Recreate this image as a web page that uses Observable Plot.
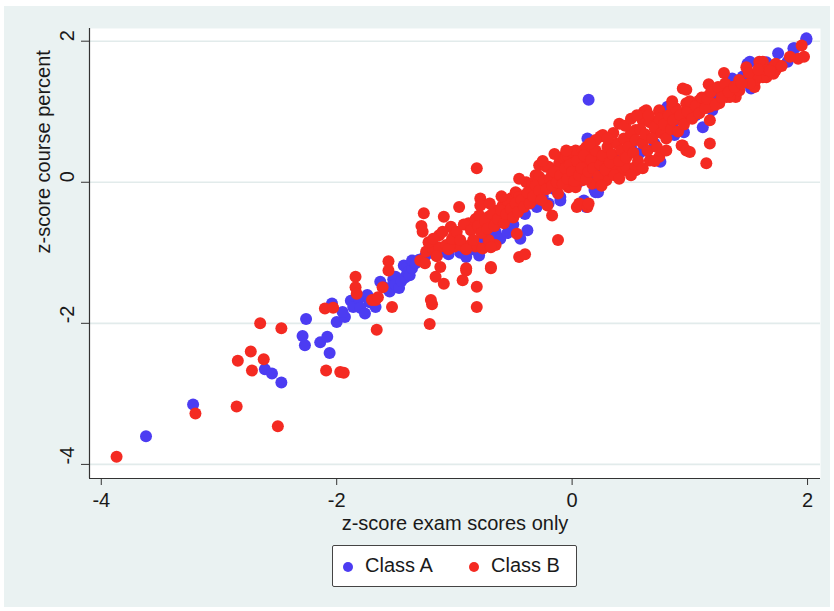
<!DOCTYPE html>
<html><head><meta charset="utf-8">
<script src="https://cdn.jsdelivr.net/npm/d3@7"></script>
<script src="https://cdn.jsdelivr.net/npm/@observablehq/plot@0.6"></script>
<style>
body{margin:0;background:#fff;font-family:"Liberation Sans",Arial,sans-serif;}
#bg{position:absolute;left:4px;top:6px;width:826px;height:601px;background:#eaf2f2;}
#chart{position:absolute;left:4px;top:6px;}
#legend{position:absolute;left:332px;top:545px;width:245px;height:42px;background:#fff;border:1px solid #444;border-radius:2px;box-sizing:border-box;color:#1a1a1a;font-size:20px;}
#legend .dot{position:absolute;width:10px;height:10px;border-radius:50%;top:16px;}
#legend .lab{position:absolute;top:8px;line-height:22px;white-space:nowrap;}
</style></head>
<body>
<div id="bg"></div>
<div id="chart"></div>
<div id="legend">
  <span class="dot" style="left:10px;background:#4c3cf2"></span><span class="lab" style="left:32px">Class A</span>
  <span class="dot" style="left:136px;background:#f42a22"></span><span class="lab" style="left:158px">Class B</span>
</div>
<script>
const xLabel = "z-score exam scores only";
const yLabel = "z-score course percent";
const xTicks = [-4, -2, 0, 2];
const yTicks = [-4, -2, 0, 2];
const seriesNames = ["Class A", "Class B"];
const BLUE = "#4c3cf2", RED = "#f42a22";

const classA = [
[-3.62,-3.60],[-3.22,-3.15],
[-2.61,-2.65],[-2.55,-2.71],[-2.47,-2.84],
[-2.26,-1.94],[-2.29,-2.18],[-2.27,-2.31],[-2.14,-2.27],[-2.08,-2.19],[-2.06,-2.42],
[-2.04,-1.72],[-2.00,-1.98],[-1.93,-1.91],[-1.95,-1.84],[-1.88,-1.68],[-1.86,-1.77],[-1.81,-1.65],[-1.80,-1.78],[-1.74,-1.60],[-1.72,-1.70],[-1.76,-1.86],[-1.67,-1.77],[-1.63,-1.41],
[-1.58,-1.50],[-1.55,-1.55],[-1.52,-1.38],[-1.50,-1.34],[-1.50,-1.45],[-1.47,-1.50],[-1.45,-1.40],[-1.43,-1.18],[-1.42,-1.35],[-1.40,-1.28],[-1.38,-1.32],[-1.36,-1.22],[-1.36,-1.11],[-1.33,-1.15],[-1.30,-1.10],[-1.25,-1.05],[-1.20,-1.00],[-1.17,-0.92],[-1.15,-0.96],[-1.10,-0.98],[-1.05,-1.02],[-0.95,-1.00],[-0.90,-1.06],[-0.85,-0.95],[-0.79,-1.04],[-0.75,-0.80],[-0.72,-0.75],[-0.70,-0.85],[-0.65,-0.70],[-0.63,-0.78],[-0.61,-0.80],[-0.55,-0.72],[-0.50,-0.60],[-0.44,-0.80],[-0.40,-0.45],[-0.38,-0.68],[-0.30,-0.35],[-0.25,-0.20],[-0.20,-0.30],[-0.15,-0.10],[-0.10,-0.21],[-0.10,-0.26],[-0.05,0.10],[0.00,-0.05],[0.05,0.00],[0.10,-0.26],[0.12,-0.35],[0.15,0.05],[0.19,-0.11],[0.20,-0.14],[0.22,-0.14],[0.23,0.15],[0.30,0.10],[0.35,0.20],[0.35,0.30],[0.37,0.15],[0.40,0.25],[0.40,0.35],[0.45,0.35],[0.50,0.50],[0.57,0.41],[0.62,0.45],[0.70,0.55],[0.75,0.29],[0.13,0.62],[0.14,1.17],[0.81,1.07],[0.85,0.80],[0.87,0.67],[0.90,0.90],[0.95,0.71],[1.05,0.95],[1.11,0.78],[1.19,1.02],[1.20,1.20],[1.25,1.15],[1.30,1.25],[1.35,1.45],[1.36,1.47],[1.40,1.30],[1.45,1.50],[1.49,1.68],[1.51,1.71],[1.52,1.33],[1.60,1.55],[1.65,1.70],[1.75,1.83],[1.83,1.71],[1.88,1.90],[1.89,1.90],[1.99,2.02],[1.99,2.04]
];

const classB = [
[-3.87,-3.89],[-3.20,-3.28],[-2.85,-3.18],[-2.50,-3.46],
[-2.65,-2.00],[-2.47,-2.07],[-2.73,-2.40],[-2.84,-2.53],[-2.72,-2.67],[-2.62,-2.51],
[-2.09,-2.67],[-1.97,-2.69],[-1.94,-2.70],
[-2.10,-1.79],[-2.03,-1.78],
[-1.84,-1.34],[-1.84,-1.49],[-1.83,-1.58],[-1.70,-1.67],[-1.67,-1.67],[-1.61,-1.49],[-1.65,-1.63],[-1.53,-1.77],[-1.56,-1.12],[-1.56,-1.25],[-1.66,-2.09],
[-1.21,-2.01],[-1.19,-1.73],[-1.20,-1.67],
[-1.16,-1.34],[-1.09,-1.44],[-0.93,-1.39],[-0.90,-1.25],[-0.81,-1.48],[-0.81,-1.77],[-0.69,-1.22],
[-1.29,-1.11],[-1.25,-1.15],[-1.12,-1.20],[-0.90,-1.22],[-0.69,-1.20],
[-1.26,-0.44],[-1.28,-0.62],[-1.27,-0.70],[-1.09,-0.49],[-1.03,-0.63],[-1.13,-0.75],[-1.00,-0.73],[-0.96,-0.35],[-0.78,-0.23],[-0.78,-0.33],
[-1.24,-0.98],[-1.18,-0.95],[-1.13,-0.92],[-1.07,-0.89],[-1.00,-0.91],[-0.94,-0.90],[-0.88,-0.90],[-0.82,-0.91],[-0.76,-0.94],
[-0.65,-0.89],[-0.71,-0.82],[-0.69,-0.92],[-0.47,-0.73],[-0.45,-1.06],[-0.40,-1.02],[-0.12,-0.82],
[-0.81,0.20],
[-0.88,-0.58],[-0.82,-0.52],[-0.79,-0.47],[-0.71,-0.49],[-0.65,-0.40],[-0.59,-0.33],[-0.57,-0.35],[-0.54,-0.49],[-0.52,-0.23],[-0.48,-0.14],[-0.47,-0.16],[-0.45,-0.21],[-0.54,-0.30],[-0.39,0.00],[-0.34,-0.07],[-0.34,-0.26],[-0.34,-0.02],[-0.31,0.10],[-0.28,0.24],[-0.28,0.08],[-0.22,0.22],[-0.21,-0.33],[-0.20,0.22],[-0.17,0.12],[-0.17,-0.47],[-0.12,-0.16],[-0.11,0.27],[-0.11,0.22],[-0.08,0.36],[-0.07,0.34],[-0.05,0.36],[-0.03,0.36],[-0.03,-0.07],[0.00,0.43],[0.00,0.12],[0.03,0.08],[0.03,0.45],[0.03,-0.07],[0.04,-0.35],[0.06,0.27],[0.06,-0.30],[0.09,0.45],[0.09,0.27],[0.09,0.08],[0.09,0.03],[0.12,0.50],[0.12,0.12],[0.13,-0.35],[0.14,0.27],[0.14,-0.30],[0.17,0.45],[0.17,-0.02],[0.23,0.31],[0.24,0.65],[0.26,0.67],[0.29,0.03],[0.31,0.17],[0.34,0.22],[0.37,0.17],[0.40,0.83],[0.40,0.12],[0.43,0.17],[0.46,0.22],[0.46,0.60],[0.49,0.55],[0.54,0.17],[0.54,0.22],[0.54,0.74],[0.60,0.88],[0.61,1.00],[0.63,1.02],[0.66,0.31],[0.71,0.74],[0.74,0.36],[0.74,1.00],[0.74,1.02],[0.80,0.93],[0.85,1.07],[0.88,0.97],[0.93,0.52],[0.94,1.33],[0.94,0.52],[0.97,0.45],[0.97,1.12],[0.97,1.31],[1.00,0.43],[1.05,1.02],[1.14,0.27],[1.16,1.39],[1.17,0.88],[1.17,0.55],[1.19,1.12],[1.29,1.55],[1.31,1.21],[1.36,1.30],[1.39,1.21],[1.42,1.42],[1.48,1.63],[1.55,1.35],[1.56,1.45],[1.62,1.71],[1.65,1.49],[1.71,1.64],[1.73,1.59],[1.92,1.75],[1.95,1.94],[1.97,1.78],
[1.59,1.71],[1.62,1.49],[1.71,1.54],[1.73,1.68],[1.56,1.49],[1.42,1.45],[1.36,1.35],[1.28,1.26],[1.19,1.30],[1.14,1.21],[1.08,1.16],[1.02,1.07],[0.97,1.02],[0.94,0.93],[1.05,0.97],[1.17,1.07],[1.25,1.12],[1.34,1.21],[1.42,1.30],[1.51,1.40],[1.65,1.59],
[-1.22,-0.85],[-1.18,-0.80],[-1.15,-1.05],[-1.10,-0.70],[-1.05,-0.95],[-1.02,-0.80],[-0.98,-0.70],[-0.95,-0.82],[-0.92,-0.60],[-0.90,-0.95],[-0.86,-0.68],[-0.84,-0.82],[-0.80,-0.62],[-0.77,-0.72],[-0.74,-0.55],[-0.72,-0.66],[-0.68,-0.45],[-0.66,-0.62],[-0.63,-0.52],[-0.60,-0.40],[-0.58,-0.58],[-0.56,-0.45],[-0.52,-0.38],[-0.50,-0.50],[-0.48,-0.30],[-0.46,-0.42],[-0.43,-0.25],[-0.41,-0.35],[-0.38,-0.15],[-0.36,-0.30],[-0.33,-0.20],[-0.31,-0.05],[-0.28,-0.12],[-0.26,-0.25],[-0.24,0.02],[-0.22,-0.10],[-0.19,0.05],[-0.17,-0.05],[-0.15,0.15],[-0.13,0.00],[-0.10,0.10],[-0.08,-0.02],[-0.06,0.20],[-0.04,0.05],[-0.02,0.25],[0.00,0.15],[0.02,0.02],[0.04,0.30],[0.06,0.10],[0.08,0.20],[0.10,0.38],[0.12,0.05],[0.14,0.15],[0.16,0.32],[0.18,0.20],[0.20,0.45],[0.22,0.08],[0.24,0.25],[0.26,0.38],[0.28,0.18],[0.30,0.50],[0.32,0.28],[0.34,0.40],[0.36,0.10],[0.38,0.55],[0.40,0.30],[0.42,0.45],[0.44,0.62],[0.46,0.35],[0.48,0.50],[0.50,0.70],[0.52,0.42],[0.54,0.60],[0.56,0.30],[0.58,0.75],[0.60,0.55],[0.62,0.68],[0.64,0.45],[0.66,0.85],[0.68,0.62],[0.70,0.78],[0.72,0.50],[0.74,0.90],[0.76,0.70],[0.78,0.82],[0.80,0.62],[0.82,0.95],[0.84,0.75],[0.86,0.88],[0.88,1.05],[0.90,0.72],[0.92,0.95],[0.95,0.82],[0.98,1.00],[1.00,1.15],[1.02,0.90],[1.05,1.08],[1.08,0.98],[1.10,1.20],[1.13,1.05],[1.15,1.18],[1.18,1.28],[1.22,1.10],[1.24,1.35],[1.27,1.20],[1.30,1.40],[1.33,1.28],[1.38,1.35],[1.44,1.40],[1.50,1.55],[1.58,1.60],[1.68,1.58],[1.78,1.65],[1.85,1.78],
[0.45,0.80],[0.50,0.90],[0.55,0.95],[0.35,0.70],[0.30,0.62],[0.60,0.20],[0.70,0.30],[0.80,0.45],[0.65,0.95],[0.20,0.60],[0.15,0.55],[-0.05,0.45],[0.85,1.15],[0.25,-0.05],[0.40,0.05],[0.50,0.10],[-0.60,-0.20],[-0.70,-0.30],[-0.45,0.05],[-0.25,0.30],[-0.15,0.40]
];

const X0 = -4.10, X1 = 2.11, Y0 = -4.20, Y1 = 2.18;
const chart = Plot.plot({
  width: 826, height: 540,
  marginLeft: 85, marginRight: 10, marginTop: 22, marginBottom: 68,
  style: {background: "transparent", fontFamily: "Liberation Sans, Arial, sans-serif", fontSize: "20px", color: "#1a1a1a", overflow: "visible"},
  x: {domain: [X0, X1]},
  y: {domain: [Y0, Y1]},
  marks: [
    Plot.frame({fill: "white", stroke: "none"}),
    Plot.gridY(yTicks, {stroke: "#e2ebeb", strokeOpacity: 1, strokeWidth: 1.6}),
    Plot.dot(classA, {x: d => d[0], y: d => d[1], r: 6, fill: BLUE}),
    Plot.dot(classB, {x: d => d[0], y: d => d[1], r: 6, fill: RED}),
    Plot.ruleX([X0], {stroke: "#333", strokeWidth: 1.2}),
    Plot.ruleY([Y0], {stroke: "#333", strokeWidth: 1.2}),
    Plot.axisX(xTicks, {tickSize: 7, tickPadding: 7, label: null, fontSize: 20, tickFormat: d => String(d), stroke: "#333"}),
    Plot.axisY(yTicks, {tickSize: 8, tickFormat: () => "", label: null, stroke: "#333"}),
    Plot.text(yTicks, {y: d => d, frameAnchor: "left", dx: -22, rotate: -90, text: d => String(d), fontSize: 20, fill: "#1a1a1a"}),
    Plot.text([xLabel], {frameAnchor: "bottom", dy: 51, fontSize: 20, fill: "#1a1a1a"}),
    Plot.text([yLabel], {frameAnchor: "left", dx: -46, rotate: -90, fontSize: 20, fill: "#1a1a1a"})
  ]
});
document.getElementById("chart").appendChild(chart);
</script>
</body></html>
